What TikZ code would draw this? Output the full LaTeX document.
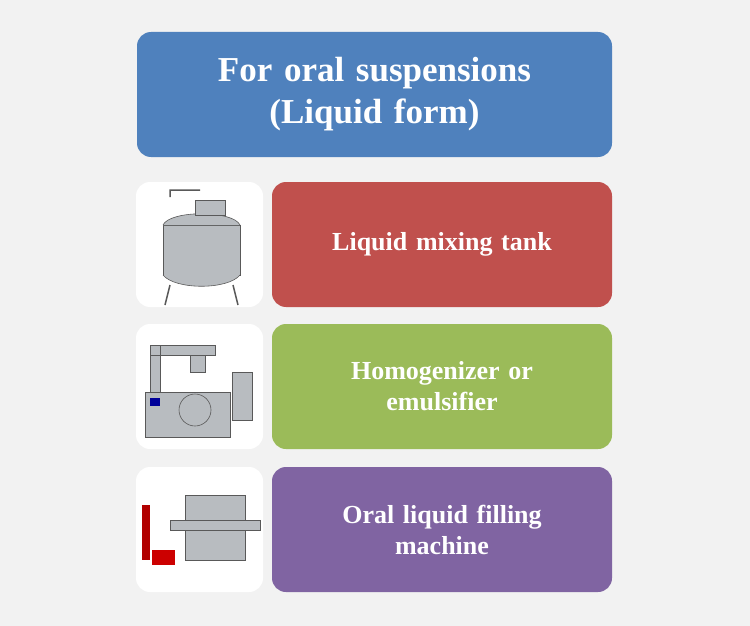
\documentclass[tikz,border=0pt]{standalone}
\usepackage{fontspec}
\setmainfont{Liberation Serif}
\definecolor{bgc}{HTML}{F2F2F2}
\definecolor{bluebox}{HTML}{4F81BD}
\definecolor{redbox}{HTML}{C0504D}
\definecolor{greenbox}{HTML}{9BBB59}
\definecolor{purplebox}{HTML}{8064A2}
\definecolor{steel}{HTML}{B8BCC0}
\begin{document}
\begin{tikzpicture}[x=1pt,y=-1pt,
    colorbox/.style={rounded corners=14pt, minimum width=340pt, minimum height=125pt,
      text width=300pt, align=center, text=white, font=\fontsize{26}{31}\selectfont\bfseries, inner sep=0pt},
    photobox/.style={rounded corners=14pt, fill=white, minimum width=127pt, minimum height=125pt, inner sep=0pt},
    metal/.style={fill=steel, draw=gray!70!black, line width=0.6pt}]
  \fill[bgc] (0,0) rectangle (750,626);
  \node[colorbox, fill=bluebox, minimum width=475pt, text width=440pt,
        font=\fontsize{35}{42}\selectfont\bfseries] (title) at (374.5,94.5)
        {For oral suspensions\\(Liquid form)};
  % rows
  \node[photobox] (img1) at (199.5,244.5) {};
  \node[colorbox, fill=redbox] (tank) at (442,244.5) {Liquid mixing tank};
  \node[photobox] (img2) at (199.5,386.5) {};
  \node[colorbox, fill=greenbox] (homo) at (442,386.5) {Homogenizer or\\emulsifier};
  \node[photobox] (img3) at (199.5,529.5) {};
  \node[colorbox, fill=purplebox] (fill) at (442,529.5) {Oral liquid filling\\machine};
  % tank sketch
  \draw[metal] (163,225) rectangle (240,275);
  \draw[metal] (163,225) .. controls (170,210) and (233,210) .. (240,225);
  \draw[metal] (163,275) .. controls (175,290) and (228,290) .. (240,275);
  \draw[metal] (195,200) rectangle (225,215);
  \draw[gray!70!black, line width=1.5pt] (170,285) -- (165,305) (233,285) -- (238,305)
    (170,197) -- (170,190) -- (200,190);
  % homogenizer sketch
  \draw[metal] (145,392) rectangle (230,437);
  \draw[metal] (150,345) rectangle (160,392) (150,345) rectangle (215,355);
  \draw[metal] (190,355) rectangle (205,372);
  \draw[metal] (195,410) circle (16pt);
  \draw[metal] (232,372) rectangle (252,420);
  \fill[blue!60!black] (150,398) rectangle (160,406);
  % filling sketch
  \draw[metal] (185,495) rectangle (245,560);
  \draw[metal] (170,520) rectangle (260,530);
  \fill[red!70!black] (142,505) rectangle (150,560);
  \fill[red!80!black] (152,550) rectangle (175,565);
\end{tikzpicture}
\end{document}
